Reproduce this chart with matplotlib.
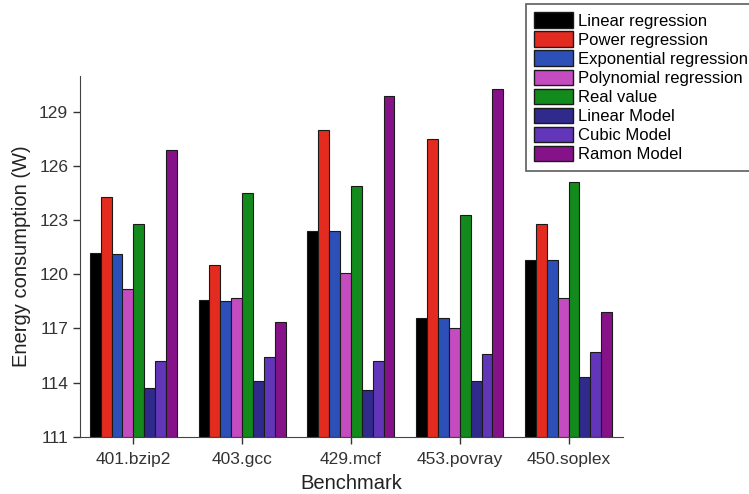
import numpy as np
import matplotlib.pyplot as plt
from matplotlib.patches import Patch

plt.rcParams['font.family'] = ['Liberation Sans', 'DejaVu Sans']

benchmarks = ['401.bzip2', '403.gcc', '429.mcf', '453.povray', '450.soplex']
series = ['Linear regression', 'Power regression', 'Exponential regression',
          'Polynomial regression', 'Real value', 'Linear Model', 'Cubic Model',
          'Ramon Model']
linear_reg = [121.2, 118.6, 122.4, 117.6, 120.8]
power_reg = [124.3, 120.5, 128.0, 127.5, 122.8]
exp_reg = [121.15, 118.5, 122.4, 117.6, 120.8]
poly_reg = [119.2, 118.7, 120.1, 117.0, 118.7]
real_value = [122.8, 124.5, 124.9, 123.3, 125.1]
linear_model = [113.7, 114.1, 113.6, 114.1, 114.3]
cubic_model = [115.2, 115.4, 115.2, 115.6, 115.7]
ramon_model = [126.9, 117.35, 129.9, 130.3, 117.9]

colors = ['#000000', '#e32b20', '#2d4fb8', '#c54cc0', '#138a1c',
          '#2f2a8c', '#6236b8', '#86128a']
values = [linear_reg, power_reg, exp_reg, poly_reg, real_value,
          linear_model, cubic_model, ramon_model]

fig = plt.figure(figsize=(7.49, 4.94), dpi=100)
ax = fig.add_axes([80/749, 1-436.7/494, 543/749, 360.7/494])

x = np.arange(1, 6)
w = 0.1
for i, (vals, c) in enumerate(zip(values, colors)):
    base = 111
    ax.bar(x + (i - 3.5) * w, np.array(vals) - base, w, bottom=base,
           color=c, edgecolor='#1a1a1a', linewidth=0.8, label=series[i])

ax.set_xlim(0.51, 5.5)
ax.set_ylim(111, 131)
ax.set_yticks([111, 114, 117, 120, 123, 126, 129])
ax.set_xticks(x)
ax.set_xticklabels(benchmarks)
ax.spines['top'].set_visible(False)
ax.spines['right'].set_visible(False)
ax.spines['left'].set_color('#444444')
ax.spines['bottom'].set_color('#444444')
ax.tick_params(axis='both', labelsize=12.5, colors='#333333', length=5, width=1)
ax.tick_params(axis='x', pad=6)
ax.set_ylabel('Energy consumption (W)', fontsize=14.5, color='#222222', labelpad=6)
ax.set_xlabel('Benchmark', fontsize=14.5, color='#222222', labelpad=5)

handles = [Patch(facecolor=c, edgecolor='#1a1a1a') for c in colors]
leg = fig.legend(handles, series, loc='upper left', bbox_to_anchor=(526/749, 1-4/494),
                 fontsize=12, frameon=True, fancybox=False, edgecolor='#333333',
                 handlelength=2.3, handleheight=1.05, labelspacing=0.16,
                 handletextpad=0.35, borderpad=0.5, borderaxespad=0)
leg.get_frame().set_linewidth(1.2)

fig.savefig('out.png', dpi=100)
